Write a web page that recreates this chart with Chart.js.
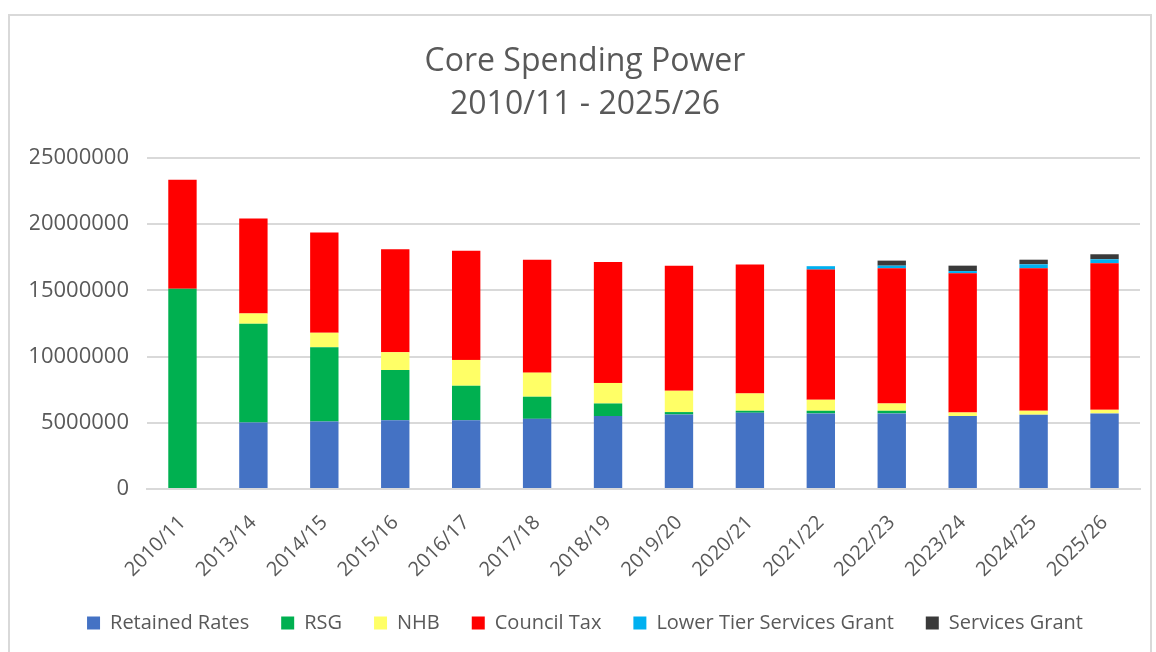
<!DOCTYPE html>
<html>
<head>
<meta charset="utf-8">
<script src="https://cdn.jsdelivr.net/npm/chart.js@4"></script>
<style>
  html, body { margin: 0; padding: 0; background: #fff; overflow: hidden; }
  #wrap {
    position: absolute; left: 8px; top: 14px;
    width: 1140px; height: 660px;
    border: 2px solid #d9d9d9;
  }
  #wrap canvas { display: block; }
</style>
</head>
<body>
<div id="wrap"><canvas id="cspChart" width="1140" height="660"></canvas></div>
<script>
/* ---- data ---- */
const years = ['2010/11', '2013/14', '2014/15', '2015/16', '2016/17', '2017/18', '2018/19',
               '2019/20', '2020/21', '2021/22', '2022/23', '2023/24', '2024/25', '2025/26'];

const retainedRates = [0, 5030000, 5100000, 5200000, 5200000, 5300000, 5510000,
                       5630000, 5760000, 5710000, 5710000, 5510000, 5610000, 5710000];
const rsg = [15130000, 7450000, 5610000, 3790000, 2600000, 1670000, 950000,
             180000, 150000, 200000, 200000, 0, 0, 0];
const nhb = [0, 780000, 1090000, 1340000, 1950000, 1820000, 1550000,
             1610000, 1310000, 830000, 550000, 270000, 300000, 270000];
const councilTax = [8230000, 7170000, 7570000, 7780000, 8250000, 8530000, 9140000,
                    9450000, 9730000, 9830000, 10210000, 10510000, 10760000, 11070000];
const ltsg = [0, 0, 0, 0, 0, 0, 0, 0, 0, 260000, 200000, 170000, 300000, 300000];
const servicesGrant = [0, 0, 0, 0, 0, 0, 0, 0, 0, 0, 380000, 410000, 350000, 380000];

const yTicks = [0, 5000000, 10000000, 15000000, 20000000, 25000000];

const FONT = '"Open Sans", "Liberation Sans", sans-serif';
const TEXT = '#595959';
const GRID = '#d9d9d9';

function ds(label, data, color) {
    return { label, data, backgroundColor: color, borderWidth: 0, barPercentage: 0.4, categoryPercentage: 1 };
}

new Chart(document.getElementById('cspChart'), {
    type: 'bar',
    data: {
        labels: years,
        datasets: [
            ds('Retained Rates', retainedRates, '#4472c4'),
            ds('RSG', rsg, '#00b050'),
            ds('NHB', nhb, '#ffff66'),
            ds('Council Tax', councilTax, '#ff0000'),
            ds('Lower Tier Services Grant', ltsg, '#00b0f0'),
            ds('Services Grant', servicesGrant, '#3a3a3a')
        ]
    },
    options: {
        responsive: false,
        animation: false,
        layout: { padding: { left: 20, right: 10, top: 0, bottom: 33 } },
        plugins: {
            title: {
                display: true,
                text: ['Core Spending Power', '2010/11 - 2025/26'],
                color: TEXT,
                font: { family: FONT, size: 32, weight: 'normal', lineHeight: 1.344 },
                padding: { top: 24, bottom: 32 }
            },
            legend: {
                position: 'bottom',
                labels: {
                    color: TEXT,
                    font: { family: FONT, size: 20 },
                    boxWidth: 13, boxHeight: 13,
                    padding: 32
                }
            },
            tooltip: { enabled: false }
        },
        scales: {
            x: {
                stacked: true,
                afterFit: s => { s.height = 92; },
                grid: { display: false },
                border: { color: GRID, width: 2 },
                ticks: {
                    color: TEXT,
                    font: { family: FONT, size: 20 },
                    maxRotation: 45, minRotation: 45,
                    padding: 14
                }
            },
            y: {
                stacked: true,
                min: 0, max: 25000000,
                afterFit: s => { s.width = 117; },
                afterBuildTicks: s => { s.ticks = yTicks.map(v => ({ value: v })); },
                grid: { color: GRID, lineWidth: 2, drawTicks: false },
                border: { display: false },
                ticks: {
                    color: TEXT,
                    font: { family: FONT, size: 22 },
                    padding: 18,
                    callback: v => String(v)
                }
            }
        }
    }
});
</script>
</body>
</html>
